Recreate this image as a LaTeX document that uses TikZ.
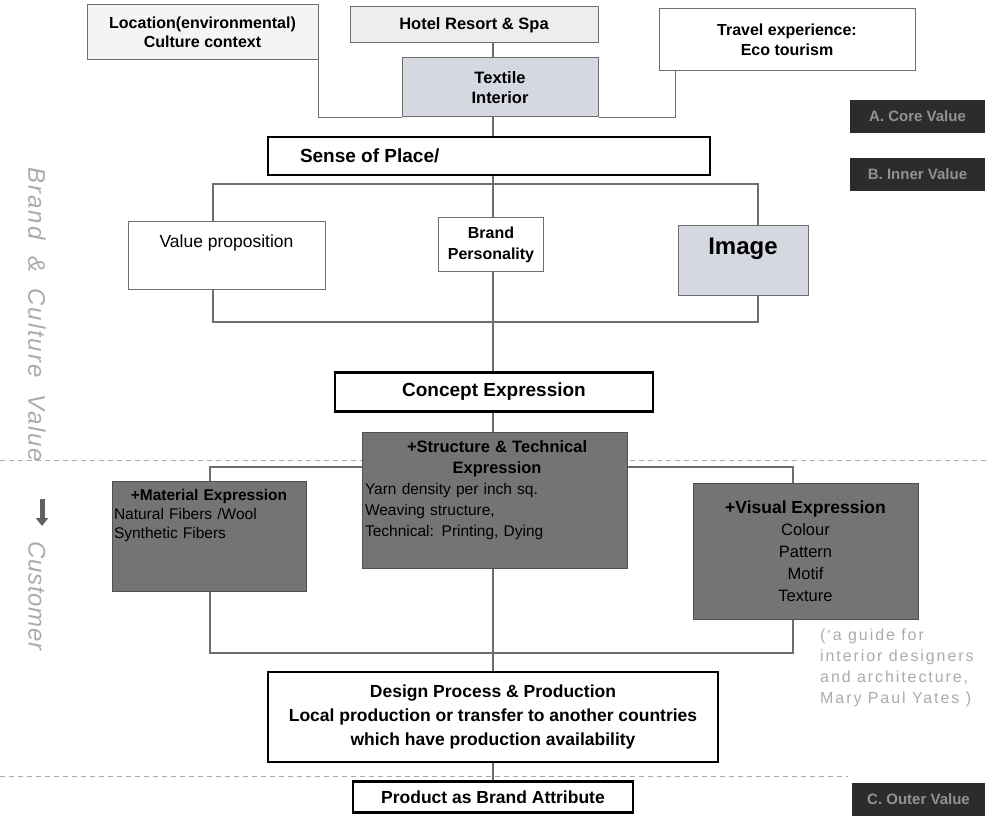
\documentclass[tikz,border=0pt]{standalone}
\usepackage{fontspec}
\setmainfont{Liberation Sans}
\usetikzlibrary{arrows.meta,backgrounds}

\definecolor{lineg}{HTML}{6E6E6E}
\definecolor{paleg}{HTML}{EDEDED}
\definecolor{blueg}{HTML}{D5D8E0}
\definecolor{darkg}{HTML}{747474}
\definecolor{tagbg}{HTML}{2C2C2C}
\definecolor{tagtx}{HTML}{929292}
\definecolor{softg}{HTML}{ABABAB}

\newcommand{\pxfont}[2]{\fontsize{#1}{#2}\selectfont}

\tikzset{
  conn/.style={draw=lineg, line width=1.1pt},
  thinbox/.style={draw=lineg, line width=1pt, inner sep=2pt, align=center},
  heavybox/.style={draw=black, line width=2.4pt, fill=white, inner sep=2pt, align=center},
  darkbox/.style={draw=darkg!70!black, line width=0.8pt, fill=darkg, inner sep=2pt},
  tagbox/.style={fill=tagbg, text=tagtx, font=\bfseries\pxfont{15}{17},
    minimum width=135pt, minimum height=33pt, inner sep=0pt},
  guide/.style={draw=softg, line width=0.9pt, dash pattern=on 5pt off 4pt},
  sidetext/.style={text=softg, font=\itshape\pxfont{24}{28}, rotate=-90, inner sep=0pt},
  boxlabel/.style={inner sep=0pt},
}

\begin{document}
\begin{tikzpicture}[x=1pt, y=-1pt]
\useasboundingbox (0,0) rectangle (993,818);

% reference columns for the connectors
\coordinate (spine) at (493,0);
\coordinate (xl) at (213,0);
\coordinate (xr) at (758,0);
\coordinate (xm) at (210,0);
\coordinate (xv) at (793,0);
\coordinate (br1) at (0,184);
\coordinate (br2) at (0,322);
\coordinate (br3) at (0,467);
\coordinate (br4) at (0,653);

% top row
\node[thinbox, fill=paleg!60, minimum width=231pt, minimum height=55pt,
      font=\bfseries\pxfont{16}{19}] (loc) at (202.5,32.5)
      {Location(environmental)\\Culture context};
\node[thinbox, fill=paleg, minimum width=248pt, minimum height=36pt,
      font=\bfseries\pxfont{16.5}{19}] (hot) at (474,25) {Hotel Resort \& Spa};
\node[thinbox, fill=blueg, minimum width=196pt, minimum height=59pt,
      font=\bfseries\pxfont{16.5}{20}] (tex) at (500,87.5) {Textile\\Interior};
\node[thinbox, fill=white, minimum width=256pt, minimum height=62pt,
      font=\bfseries\pxfont{16}{20}] (trv) at (787,40) {Travel experience:\\Eco tourism};

% sense of place
\node[heavybox, minimum width=442pt, minimum height=38pt,
      label={[boxlabel, anchor=west, xshift=33pt, font=\bfseries\pxfont{19}{21}]west:Sense of Place/}]
      (sop) at (489,156) {};

% brand row
\node[thinbox, fill=white, minimum width=197pt, minimum height=68pt,
      label={[boxlabel, anchor=north, yshift=-13pt, font=\pxfont{17.5}{20}]north:Value proposition}]
      (vp) at (226.5,256) {};
\node[thinbox, fill=white, minimum width=105pt, minimum height=54pt,
      font=\bfseries\pxfont{16}{21}] (bp) at (491,245) {Brand\\Personality};
\node[thinbox, fill=blueg, minimum width=130pt, minimum height=70pt,
      label={[boxlabel, anchor=north, yshift=-12pt, font=\bfseries\pxfont{24}{26}]north:Image}]
      (img) at (743,261) {};

% concept
\node[heavybox, minimum width=318pt, minimum height=39pt,
      font=\bfseries\pxfont{19}{22}] (ce) at (494,392) {Concept Expression};

% expressions
\node[darkbox, minimum width=265pt, minimum height=136pt,
      label={[boxlabel, anchor=north, yshift=-9pt, align=left, text width=259pt,
              font=\pxfont{15.5}{21}]north:%
        \makebox[259pt]{\bfseries\pxfont{16.5}{21} +Structure \& Technical}\\
        \makebox[259pt]{\bfseries\pxfont{16.5}{21} Expression}\\
        Yarn density per inch sq.\\
        Weaving structure,\\
        Technical: Printing, Dying}]
      (st) at (494.5,500) {};
\node[darkbox, minimum width=194pt, minimum height=110pt,
      label={[boxlabel, anchor=north, yshift=-8pt, align=left, text width=190pt,
              font=\pxfont{15.5}{19}]north:%
        \makebox[190pt]{\bfseries +Material Expression}\\
        Natural Fibers /Wool\\
        Synthetic Fibers}]
      (mat) at (209,536) {};
\node[darkbox, minimum width=225pt, minimum height=136pt, align=center,
      font=\pxfont{16.5}{22}] (vis) at (805.5,551)
      {\textbf{\pxfont{17.5}{22}+Visual Expression}\\Colour\\Pattern\\Motif\\Texture};

% source note
\node[anchor=north west, align=left, inner sep=0pt, text=softg,
      font=\addfontfeature{LetterSpace=12}\pxfont{16}{21}] (note) at (820,629)
      {(‘a guide for\\interior designers\\and architecture,\\Mary Paul Yates )};

% production
\node[heavybox, minimum width=450pt, minimum height=90pt,
      font=\bfseries\pxfont{17.5}{24}] (dp) at (493,717)
      {Design Process \& Production\\Local production or transfer to another countries\\which have production availability};
\node[heavybox, minimum width=280pt, minimum height=31pt,
      font=\bfseries\pxfont{17.5}{20}] (pba) at (493,797) {Product as Brand Attribute};

% value level tags
\node[tagbox] (tagA) at (917.5,116.5) {A. Core Value};
\node[tagbox] (tagB) at (917.5,174.5) {B. Inner Value};
\node[tagbox, minimum width=133pt] (tagC) at (918.5,799) {C. Outer Value};

% side caption
\node[sidetext, font=\itshape\addfontfeature{LetterSpace=8}\pxfont{24}{28}] (sideA) at (37,315)
      {Brand\hspace{8pt} \&\hspace{8pt} Culture\hspace{8pt} Value};
\node[sidetext, font=\itshape\addfontfeature{LetterSpace=3}\pxfont{24}{28}] (sideB) at (37,596) {Customer};
\coordinate (arrS) at (42,499);
\coordinate (arrE) at (42,526);
\draw[draw=gray!75!black, line width=5pt, -{Triangle[length=8pt,width=12pt]}] (arrS) -- (arrE);

\begin{scope}[on background layer]
  % level separators
  \coordinate (g1a) at (0,460);
  \coordinate (g1b) at (988,460);
  \coordinate (g2a) at (0,776);
  \coordinate (g2b) at (848,776);
  \draw[guide] (g1a) -- (g1b);
  \draw[guide] (g2a) -- (g2b);

  % connectors
  \draw[conn] (loc.south east) |- (tex.south west);
  \draw[conn] (trv.south west) ++(17,0) |- (tex.south east);
  \draw[conn] (hot.south -| spine) -- (tex.north -| spine);
  \draw[conn] (tex.south -| spine) -- (sop.north -| spine);
  \draw[conn] (sop.south -| spine) -- (bp.north -| spine);
  \draw[conn] (vp.north -| xl) |- (br1 -| xr) -- (img.north -| xr);
  \draw[conn] (vp.south -| xl) |- (br2 -| xr) -- (img.south -| xr);
  \draw[conn] (bp.south -| spine) -- (ce.north -| spine);
  \draw[conn] (ce.south -| spine) -- (st.north -| spine);
  \draw[conn] (mat.north -| xm) |- (br3 -| st.west);
  \draw[conn] (br3 -| st.east) -| (vis.north -| xv);
  \draw[conn] (mat.south -| xm) |- (br4 -| xv) -- (vis.south -| xv);
  \draw[conn] (st.south -| spine) -- (dp.north -| spine);
  \draw[conn] (dp.south -| spine) -- (pba.north -| spine);
\end{scope}
\end{tikzpicture}
\end{document}
